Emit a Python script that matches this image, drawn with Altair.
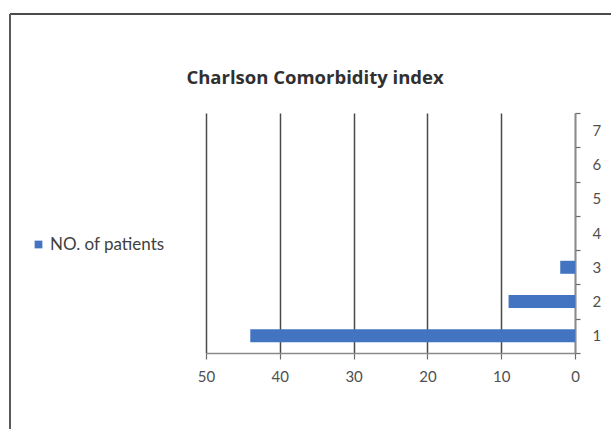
import altair as alt
import pandas as pd

# Charlson Comorbidity index scores and patient counts
scores = [1, 2, 3, 4, 5, 6, 7]
patients = [44, 9, 2, 0, 0, 0, 0]
series_name = "NO. of patients"
chart_title = "Charlson Comorbidity index"
x_ticks = [0, 10, 20, 30, 40, 50]

df = pd.DataFrame({"score": scores, "patients": patients, "series": series_name})

BLUE = "#4274C2"
FONT = "Lato"
TITLE_FONT = "Open Sans"

base = alt.Chart(df)

bars = base.mark_bar(orient="horizontal", height=13).encode(
    x=alt.X(
        "patients:Q",
        scale=alt.Scale(domain=[0, 50], reverse=True, nice=False, padding=0),
        axis=alt.Axis(
            values=x_ticks,
            title=None,
            grid=True,
            gridColor="#4a4a4a",
            gridWidth=1.5,
            domainColor="#8a8a8a",
            domainWidth=1.5,
            tickColor="#6a6a6a",
            tickSize=6,
            tickWidth=1.2,
            labelFlush=False,
            labelPadding=10,
            labelColor="#505050",
            labelFont=FONT,
            labelFontSize=15,
        ),
    ),
    y=alt.Y(
        "score:Q",
        scale=alt.Scale(domain=[0.5, 7.5], nice=False, zero=False, padding=0),
        axis=alt.Axis(
            orient="right",
            values=[0.5, 1, 1.5, 2, 2.5, 3, 3.5, 4, 4.5, 5, 5.5, 6, 6.5, 7, 7.5],
            labelExpr="datum.value % 1 == 0 ? format(datum.value, 'd') : ''",
            tickSize={"condition": {"test": "datum.value % 1 != 0", "value": 5}, "value": 0},
            tickColor="#6a6a6a",
            tickWidth=1.2,
            title=None,
            grid=False,
            domainColor="#8a8a8a",
            domainWidth=1.5,
            labelFlush=False,
            labelPadding=17,
            labelColor="#505050",
            labelFont=FONT,
            labelFontSize=15,
        ),
    ),
    color=alt.Color(
        "series:N",
        scale=alt.Scale(range=[BLUE]),
        legend=alt.Legend(
            orient="none",
            legendX=-176,
            legendY=123,
            title=None,
            symbolType="square",
            symbolSize=60,
            symbolStrokeWidth=0,
            labelFont=FONT,
            labelFontSize=17,
            labelColor="#404040",
            labelOffset=3,
        ),
    ),
)

single = alt.Data(values=[{"k": 0}])

# Chart heading, centred over the left part of the figure
heading = alt.Chart(single).mark_text(
    text=chart_title,
    font=TITLE_FONT,
    fontSize=18.5,
    fontWeight="bold",
    color="#303030",
    align="center",
    baseline="middle",
).encode(x=alt.value(109), y=alt.value(-35))

# Outer frame lines (top and left edges of the figure border)
frame_top = alt.Chart(single).mark_rule(color="#4a4a4a", strokeWidth=2).encode(
    x=alt.value(-196), x2=alt.value(420), y=alt.value(-99)
)
frame_left = alt.Chart(single).mark_rule(color="#5a5a5a", strokeWidth=2).encode(
    x=alt.value(-196), y=alt.value(-99), y2=alt.value(330)
)

chart = (
    alt.layer(bars, heading, frame_top, frame_left)
    .properties(
        width=369,
        height=240,
        padding={"left": 206, "top": 113, "right": 36, "bottom": 76},
        autosize=alt.AutoSizeParams(type="none"),
        background="white",
    )
    .configure_view(stroke=None)
)

chart.save("out.html", embed_options={"renderer": "svg", "actions": False})
